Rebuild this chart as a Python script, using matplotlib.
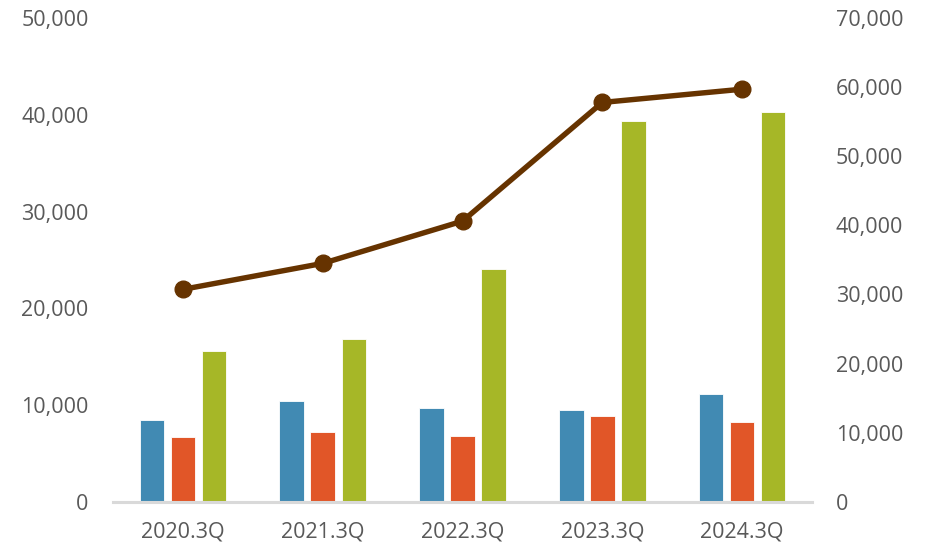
import matplotlib.pyplot as plt
import numpy as np
from matplotlib.ticker import FuncFormatter

categories = ["2020.3Q", "2021.3Q", "2022.3Q", "2023.3Q", "2024.3Q"]
blue_vals = [8450, 10440, 9720, 9480, 11100]
orange_vals = [6660, 7200, 6760, 8860, 8210]
green_vals = [15550, 16790, 24050, 39380, 40310]
line_vals = [30740, 34500, 40620, 57800, 59720]

plt.rcParams["font.family"] = ["Open Sans", "DejaVu Sans"]
text_color = "#595959"

fig = plt.figure(figsize=(9.28, 5.51), dpi=100)
ax = fig.add_axes([0.1218, 0.0895, 0.7532, 0.8775])
x = np.arange(len(categories))
w = 0.175
step = 0.222
ax.bar(x - step, blue_vals, w, color="#418AB3", edgecolor="white", linewidth=0.6, zorder=2)
ax.bar(x, orange_vals, w, color="#E15628", edgecolor="white", linewidth=0.6, zorder=2)
ax.bar(x + step, green_vals, w, color="#A6B727", edgecolor="white", linewidth=0.6, zorder=2)

ax.set_xlim(-0.5, 4.5)
ax.set_ylim(0, 50000)
ax.set_yticks(range(0, 50001, 10000))
ax.set_xticks(x)
ax.set_xticklabels(categories)
fmt = FuncFormatter(lambda v, p: f"{int(v):,}")
ax.yaxis.set_major_formatter(fmt)

for s in ["top", "right", "left"]:
    ax.spines[s].set_visible(False)
ax.spines["bottom"].set_color("#D9D9D9")
ax.spines["bottom"].set_linewidth(2.2)
ax.tick_params(axis="both", length=0, labelsize=15.5, colors=text_color)
ax.tick_params(axis="y", pad=17.5)
ax.tick_params(axis="x", pad=14.5)

ax2 = ax.twinx()
ax2.plot(x, line_vals, color="#663300", linewidth=3.9, marker="o", markersize=12,
         solid_capstyle="round", zorder=3)
ax2.set_ylim(0, 70000)
ax2.set_yticks(range(0, 70001, 10000))
ax2.yaxis.set_major_formatter(fmt)
for s in ["top", "right", "left", "bottom"]:
    ax2.spines[s].set_visible(False)
ax2.tick_params(axis="y", length=0, labelsize=15.5, colors=text_color, pad=17)

fig.savefig("out.png", dpi=100)
